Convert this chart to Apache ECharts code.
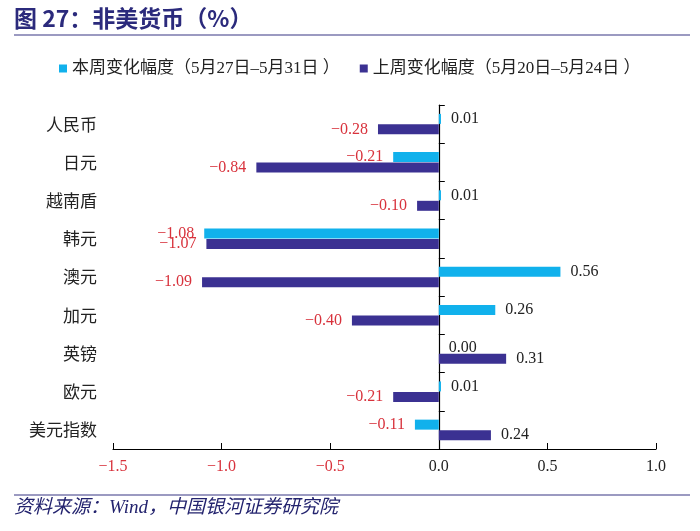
<!DOCTYPE html>
<html>
<head>
<meta charset="utf-8">
<script src="https://cdn.jsdelivr.net/npm/echarts@6/dist/echarts.min.js"></script>
<style>html,body{margin:0;padding:0;background:#fff;}#c{width:700px;height:531px;}</style>
</head>
<body>
<div id="c"></div>
<script>
var categories = ['人民币','日元','越南盾','韩元','澳元','加元','英镑','欧元','美元指数'];
var thisWeek = [0.01, -0.21, 0.01, -1.08, 0.56, 0.26, 0.00, 0.01, -0.11];
var lastWeek = [-0.28, -0.84, -0.10, -1.07, -1.09, -0.40, 0.31, -0.21, 0.24];
var seriesNames = ['本周变化幅度（5月27日–5月31日 ）', '上周变化幅度（5月20日–5月24日 ）'];
var xTicks = [-1.5, -1.0, -0.5, 0.0, 0.5, 1.0];

var RED = '#d8323c', DARK = '#222222';
var NUMFONT = '"Liberation Serif", "Times New Roman", serif';
var CJK = '"Noto Sans CJK SC", sans-serif';

function fmt(v){ var s = Math.abs(v).toFixed(2); return v < 0 ? '\u2212' + s : s; }
function items(arr){
  return arr.map(function(v){
    return { value: v, label: { position: v < 0 ? 'left' : 'right', color: v < 0 ? RED : DARK } };
  });
}

var chart = echarts.init(document.getElementById('c'), null, {renderer:'canvas'});
chart.setOption({
  animation: false,
  backgroundColor: '#fff',
  graphic: [
    { type:'text', left:14, top:7, style:{ text:'图 27：非美货币（%）', font:'bold 23px "Noto Sans CJK SC", sans-serif', fill:'#2b2a7c' } },
    { type:'line', shape:{x1:14,y1:35,x2:690,y2:35}, style:{stroke:'#7a78ad', lineWidth:1.5} },
    { type:'line', shape:{x1:14,y1:495,x2:690,y2:495}, style:{stroke:'#7a78ad', lineWidth:1.5} },
    { type:'text', left:14, top:498, style:{ text:'资料来源：Wind，中国银河证券研究院', font:'italic 19px "Liberation Serif", "Noto Sans CJK SC", serif', fill:'#23236e' } }
  ],
  legend: {
    top: 55, left: 54,
    icon: 'rect', itemWidth: 8, itemHeight: 8, itemGap: 20,
    textStyle: { fontSize: 17, color: DARK, fontFamily: '"Liberation Serif", "Noto Sans CJK SC", serif' },
    data: seriesNames
  },
  grid: { left: 113, right: 44, top: 105, bottom: 82, containLabel: false, outerBoundsMode: 'none' },
  xAxis: {
    type: 'value', min: -1.5, max: 1.0, interval: 0.5,
    axisLine: { show: true, onZero: false, lineStyle: { color: '#000', width: 1.2 } },
    axisTick: { show: true, inside: true, length: 6, lineStyle: { color: '#000' } },
    splitLine: { show: false },
    axisLabel: {
      margin: 10,
      formatter: function(v){
        var t = xTicks.filter(function(x){ return Math.abs(x - v) < 1e-9; });
        if (!t.length) return '';
        var s = Math.abs(v).toFixed(1);
        return v < 0 ? '{n|\u2212' + s + '}' : '{p|' + s + '}';
      },
      rich: {
        n: { color: RED, fontSize: 16, fontFamily: NUMFONT },
        p: { color: DARK, fontSize: 16, fontFamily: NUMFONT }
      }
    }
  },
  yAxis: [
    {
      type: 'category', inverse: true, data: categories, position: 'left',
      axisLine: { show: false, onZero: false },
      axisTick: { show: false },
      axisLabel: { margin: 16, fontSize: 17, color: DARK, fontFamily: CJK },
      splitLine: { show: false }
    },
    {
      type: 'category', inverse: true, data: categories, position: 'left',
      axisLine: { show: true, onZero: true, lineStyle: { color: '#000', width: 1.2 } },
      axisTick: { show: true, inside: true, length: 6, lineStyle: { color: '#000' } },
      axisLabel: { show: false },
      splitLine: { show: false }
    }
  ],
  series: [
    { name: seriesNames[0], type: 'bar', data: items(thisWeek), barWidth: 10, barGap: '5%',
      itemStyle: { color: '#11b1ec' },
      label: { show: true, distance: 10, fontSize: 16, fontFamily: NUMFONT, formatter: function(p){ return fmt(p.value); } }
    },
    { name: seriesNames[1], type: 'bar', data: items(lastWeek), barWidth: 10,
      itemStyle: { color: '#3b3192' },
      label: { show: true, distance: 10, fontSize: 16, fontFamily: NUMFONT, formatter: function(p){ return fmt(p.value); } }
    }
  ]
});
</script>
</body>
</html>
